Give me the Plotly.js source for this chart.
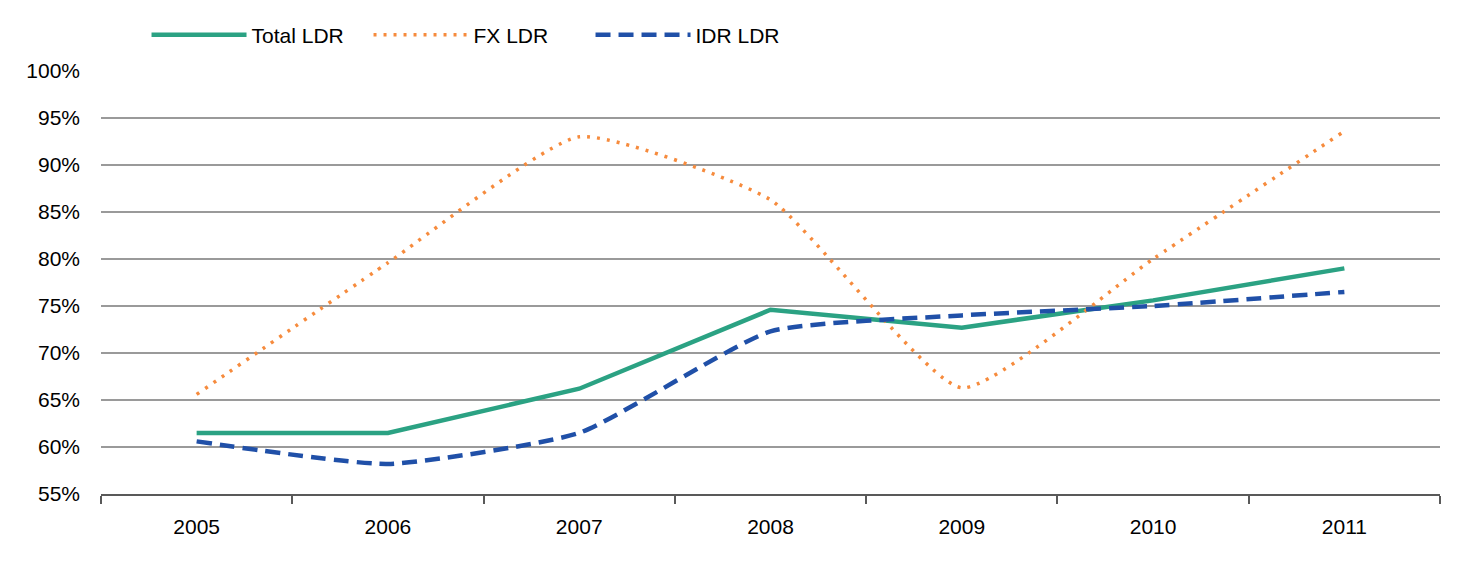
<!DOCTYPE html>
<html>
<head>
<meta charset="utf-8">
<script src="https://cdn.plot.ly/plotly-3.0.1.min.js"></script>
<style>html,body{margin:0;padding:0;background:#fff;}#chart{width:1466px;height:564px;}</style>
</head>
<body>
<div id="chart"></div>
<script>
var years = ["2005", "2006", "2007", "2008", "2009", "2010", "2011"];
var totalLDR = [61.5, 61.5, 66.2, 74.6, 72.7, 75.6, 79.0];
var fxLDR = [65.6, 79.6, 93.0, 86.3, 66.3, 80.0, 93.6];
var idrLDR = [60.6, 58.2, 61.5, 72.3, 74.0, 75.0, 76.5];
var yTicks = [55, 60, 65, 70, 75, 80, 85, 90, 95, 100];
var yTickText = yTicks.map(function (v) { return v + "%"; });

var font = "Liberation Sans, Arial, sans-serif";
var traces = [
  {x: years, y: totalLDR, name: "Total LDR", type: "scatter", mode: "lines",
   line: {color: "#2BA283", width: 4.5}},
  {x: years, y: fxLDR, name: "FX LDR", type: "scatter", mode: "lines",
   line: {color: "#F68B3D", width: 3.5, dash: "3px,7px", shape: "spline", smoothing: 0.5}},
  {x: years, y: idrLDR, name: "IDR LDR", type: "scatter", mode: "lines",
   line: {color: "#2050A8", width: 4.5, dash: "15px,8px", shape: "spline", smoothing: 0.5}}
];
var layout = {
  width: 1466, height: 564,
  margin: {l: 101, r: 26, t: 71, b: 70},
  paper_bgcolor: "#fff", plot_bgcolor: "#fff",
  font: {family: font, size: 21, color: "#000"},
  showlegend: true,
  legend: {orientation: "h", x: 0.034, xanchor: "left", y: 1.085, yanchor: "middle",
           font: {family: font, size: 21, color: "#000"}, itemwidth: 95,
           entrywidth: 112, entrywidthmode: "pixels",
           bgcolor: "rgba(0,0,0,0)"},
  xaxis: {type: "category", range: [-0.5, 6.5], tickson: "boundaries", ticks: "outside", ticklen: 8, tickwidth: 2,
          tickcolor: "#595959", showline: true, linecolor: "#595959", linewidth: 2,
          showgrid: false, zeroline: false, ticklabelstandoff: 13,
          tickfont: {family: font, size: 21, color: "#000"}, fixedrange: true},
  yaxis: {range: [55, 100], tickvals: yTicks, ticktext: yTickText, showgrid: true,
          gridcolor: "#9A9A9A", gridwidth: 2, zeroline: false, showline: false,
          ticks: "", ticklabelstandoff: 20,
          tickfont: {family: font, size: 21, color: "#000"}, fixedrange: true}
};
Plotly.newPlot("chart", traces, layout, {displayModeBar: false, staticPlot: true});
</script>
</body>
</html>
